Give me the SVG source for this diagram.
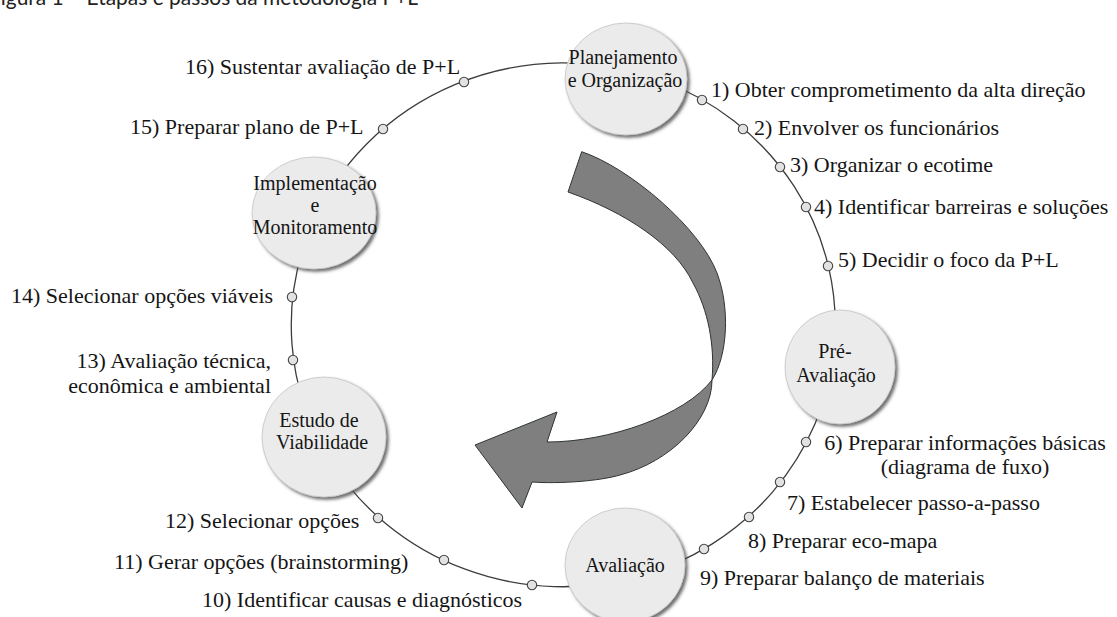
<svg xmlns="http://www.w3.org/2000/svg" width="1117" height="617" viewBox="0 0 1117 617">
<style>
.conn{fill:none;stroke:#3c3c3c;stroke-width:1.3}
.mk{fill:#e2e2e2;stroke:#444444;stroke-width:1.1}
.node{fill:#ebebeb;stroke:#c4c4c4;stroke-width:0.8;filter:url(#sh)}
.nt{font-size:20px;fill:#151515;text-anchor:middle}
.lb{font-size:22px;fill:#151515}
</style>
<defs>
<filter id="sh" x="-20%" y="-20%" width="150%" height="150%">
<feDropShadow dx="2.5" dy="2.5" stdDeviation="1.4" flood-color="#4d4d4d" flood-opacity="0.8"/>
</filter>
</defs>
<rect width="1117" height="617" fill="#ffffff"/>
<text font-family="Lato, 'Liberation Sans', sans-serif" font-size="22" fill="#222222" x="-11" y="5" textLength="429" lengthAdjust="spacingAndGlyphs">Figura 1 – Etapas e passos da metodologia P+L</text>

<g id="connectors">
<path class="conn" d="M660,80 A272,262 0 0 1 834,350"/>
<path class="conn" d="M834,350 A272,262 0 0 1 640,576"/>
<path class="conn" d="M640,576 A272,262 0 0 1 330,460"/>
<path class="conn" d="M330,460 A272,262 0 0 1 312,225"/>
<path class="conn" d="M312,225 A272,262 0 0 1 660,80"/>
</g>

<g id="cycle-arrow">
<path d="M581.7,151.7 C630,168 700,228 717,273 C730,307 728,355 712,380 C712,420 670,462 620,475 C600,481 560,484 532,482 L522,508 L475,445 L557,412 L547,442 C610,442 685,415 712,380 C715,345 708,310 693,283 C675,245 625,212 568,192 Z" fill="#7f7f7f" stroke="#2e3436" stroke-width="1"/>
</g>

<g id="step-markers">
<circle class="mk" cx="702" cy="100" r="4.7"/>
<circle class="mk" cx="743" cy="129" r="4.7"/>
<circle class="mk" cx="780" cy="167" r="4.7"/>
<circle class="mk" cx="806" cy="207" r="4.7"/>
<circle class="mk" cx="828" cy="266" r="4.7"/>
<circle class="mk" cx="806" cy="442" r="4.7"/>
<circle class="mk" cx="780" cy="482" r="4.7"/>
<circle class="mk" cx="749" cy="517" r="4.7"/>
<circle class="mk" cx="704" cy="549" r="4.7"/>
<circle class="mk" cx="532" cy="585" r="4.7"/>
<circle class="mk" cx="444" cy="560" r="4.7"/>
<circle class="mk" cx="378" cy="518" r="4.7"/>
<circle class="mk" cx="293" cy="360" r="4.7"/>
<circle class="mk" cx="292" cy="297" r="4.7"/>
<circle class="mk" cx="383" cy="129" r="4.7"/>
<circle class="mk" cx="464" cy="82" r="4.7"/>
</g>

<g font-family="'Liberation Serif', 'Times New Roman', Tinos, 'DejaVu Serif', serif">
<g id="node-planejamento">
<ellipse class="node" cx="626" cy="79" rx="61" ry="56"/>
<text class="nt" x="623" y="64">Planejamento</text>
<text class="nt" x="625" y="87">e Organização</text>
</g>
<g id="node-pre-avaliacao">
<ellipse class="node" cx="840" cy="367" rx="55" ry="57"/>
<text class="nt" x="835" y="358">Pré-</text>
<text class="nt" x="836" y="382">Avaliação</text>
</g>
<g id="node-avaliacao">
<ellipse class="node" cx="625" cy="565" rx="60" ry="57"/>
<text class="nt" x="625" y="572">Avaliação</text>
</g>
<g id="node-estudo">
<ellipse class="node" cx="324" cy="437" rx="62" ry="60"/>
<text class="nt" x="319" y="427">Estudo de</text>
<text class="nt" x="322" y="449">Viabilidade</text>
</g>
<g id="node-implementacao">
<ellipse class="node" cx="314" cy="213" rx="62" ry="56"/>
<text class="nt" x="315" y="190">Implementação</text>
<text class="nt" x="315" y="212">e</text>
<text class="nt" x="315" y="234">Monitoramento</text>
</g>

<g id="step-labels">
<text class="lb" x="711" y="97">1) Obter comprometimento da alta direção</text>
<text class="lb" x="754" y="135">2) Envolver os funcionários</text>
<text class="lb" x="790" y="172">3) Organizar o ecotime</text>
<text class="lb" x="814" y="214">4) Identificar barreiras e soluções</text>
<text class="lb" x="838" y="267">5) Decidir o foco da P+L</text>
<text class="lb" x="965" y="450" text-anchor="middle">6) Preparar informações básicas</text>
<text class="lb" x="965" y="474" text-anchor="middle">(diagrama de fuxo)</text>
<text class="lb" x="787" y="510">7) Estabelecer passo-a-passo</text>
<text class="lb" x="748" y="548">8) Preparar eco-mapa</text>
<text class="lb" x="700" y="585">9) Preparar balanço de materiais</text>
<text class="lb" x="202" y="607">10) Identificar causas e diagnósticos</text>
<text class="lb" x="114" y="569">11) Gerar opções (brainstorming)</text>
<text class="lb" x="165" y="528">12) Selecionar opções</text>
<text class="lb" x="271" y="368" text-anchor="end">13) Avaliação técnica,</text>
<text class="lb" x="271" y="393" text-anchor="end">econômica e ambiental</text>
<text class="lb" x="11" y="303">14) Selecionar opções viáveis</text>
<text class="lb" x="130" y="134">15) Preparar plano de P+L</text>
<text class="lb" x="185" y="74">16) Sustentar avaliação de P+L</text>
</g>
</g>
</svg>
